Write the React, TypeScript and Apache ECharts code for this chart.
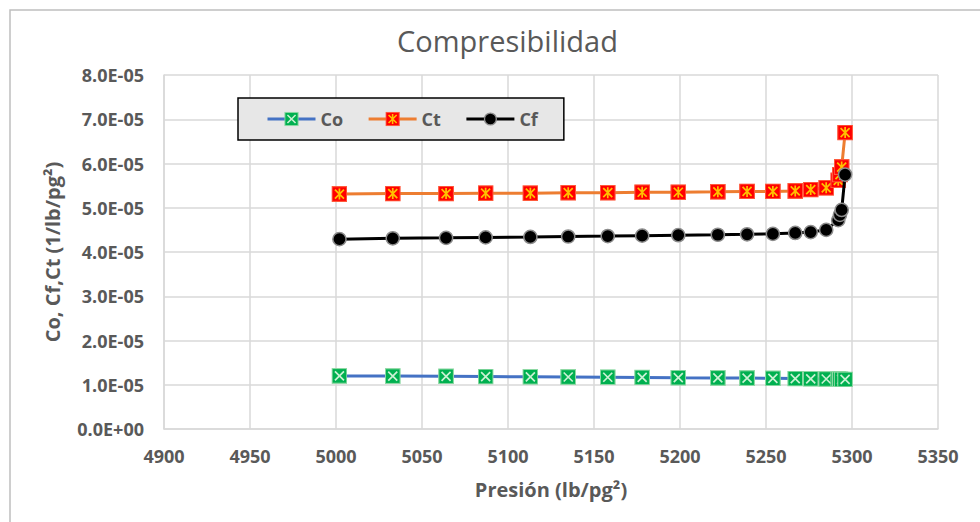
import React, { useEffect, useRef } from "react";
import * as echarts from "echarts";

// Pressure (lb/pg²)
const pressure = [5002, 5033, 5064, 5087, 5113, 5135, 5158, 5178, 5199, 5222, 5239, 5254, 5267, 5276, 5285, 5292, 5293, 5294, 5296];
// Compressibilities (1/lb/pg²)
const co = [1.2e-5, 1.195e-5, 1.19e-5, 1.185e-5, 1.18e-5, 1.175e-5, 1.17e-5, 1.165e-5, 1.16e-5, 1.155e-5, 1.15e-5, 1.145e-5, 1.14e-5, 1.135e-5, 1.13e-5, 1.13e-5, 1.125e-5, 1.12e-5, 1.12e-5];
const ct = [5.31e-5, 5.32e-5, 5.32e-5, 5.33e-5, 5.33e-5, 5.34e-5, 5.34e-5, 5.35e-5, 5.35e-5, 5.36e-5, 5.37e-5, 5.37e-5, 5.38e-5, 5.41e-5, 5.45e-5, 5.62e-5, 5.75e-5, 5.92e-5, 6.7e-5];
const cf = [4.29e-5, 4.31e-5, 4.32e-5, 4.33e-5, 4.34e-5, 4.35e-5, 4.36e-5, 4.37e-5, 4.38e-5, 4.39e-5, 4.4e-5, 4.41e-5, 4.43e-5, 4.45e-5, 4.5e-5, 4.72e-5, 4.84e-5, 4.95e-5, 5.75e-5];

const seriesNames = ["Co", "Ct", "Cf"];
const xMin = 4900;
const xMax = 5350;
const xStep = 50;
const yMin = 0;
const yMax = 8e-5;
const yStep = 1e-5;

const svgUri = (s: string) => "image://data:image/svg+xml;charset=utf-8," + encodeURIComponent(s);

const coSymbol = svgUri(
  "<svg xmlns='http://www.w3.org/2000/svg' width='16' height='16' viewBox='0 0 16 16'><rect x='0.6' y='0.6' width='14.8' height='14.8' fill='#00b050' stroke='#8fd9a4' stroke-width='1.2'/><path d='M3.5 3.5L12.5 12.5M12.5 3.5L3.5 12.5' stroke='#c9f1d3' stroke-width='1.7' fill='none'/></svg>"
);
const ctSymbol = svgUri(
  "<svg xmlns='http://www.w3.org/2000/svg' width='16' height='16' viewBox='0 0 16 16'><rect x='0.6' y='0.6' width='14.8' height='14.8' fill='#ff0000' stroke='#ff5a3c' stroke-width='1.2'/><path d='M8 2.5V13.5M3.5 3.5L12.5 12.5M12.5 3.5L3.5 12.5' stroke='#ffc000' stroke-width='1.7' fill='none'/></svg>"
);
const cfSymbol = svgUri(
  "<svg xmlns='http://www.w3.org/2000/svg' width='16' height='16' viewBox='0 0 16 16'><circle cx='8' cy='8' r='6.6' fill='#000000' stroke='#8c8c8c' stroke-width='1.5'/></svg>"
);

function sci(v: number): string {
  if (Math.abs(v) < 1e-12) return "0.0E+00";
  const e = Math.floor(Math.log10(Math.abs(v)) + 1e-6);
  const m = v / Math.pow(10, e);
  return m.toFixed(1) + "E" + (e < 0 ? "-" : "+") + String(Math.abs(e)).padStart(2, "0");
}

const pairs = (ys: number[]) => pressure.map((x, i) => [x, ys[i]]);

const FONT = "'Open Sans', 'Noto Sans', sans-serif";
const GRAY = "#595959";

export default function App() {
  const ref = useRef<HTMLDivElement>(null);
  useEffect(() => {
    if (!ref.current) return;
    const chart = echarts.init(ref.current, null, { renderer: "svg" });
    chart.setOption({
      animation: false,
      backgroundColor: "#ffffff",
      textStyle: { fontFamily: FONT },
      title: {
        text: "Compresibilidad",
        left: 392,
        top: 21,
        textStyle: { fontFamily: FONT, fontSize: 29, fontWeight: "normal", color: GRAY },
      },
      graphic: [
        {
          type: "rect",
          shape: { x: 10, y: 10, width: 1100, height: 700 },
          style: { fill: "none", stroke: "#bfbfbf", lineWidth: 1.5 },
          silent: true,
        },
      ],
      legend: {
        left: 238,
        top: 98,
        orient: "horizontal",
        data: seriesNames,
        backgroundColor: "#e7e7e7",
        borderColor: "#000000",
        borderWidth: 1.5,
        borderRadius: 0,
        padding: [12, 26, 12, 28],
        itemWidth: 48,
        itemHeight: 18,
        itemGap: 24,
        lineStyle: { width: 3 },
        textStyle: { fontFamily: FONT, fontSize: 18, fontWeight: "bold", color: GRAY },
      },
      grid: { left: 164, right: 42, top: 75, bottom: 93 },
      xAxis: {
        type: "value",
        min: xMin,
        max: xMax,
        interval: xStep,
        name: "Presión (lb/pg²)",
        nameLocation: "middle",
        nameGap: 50,
        nameTextStyle: { fontFamily: FONT, fontSize: 20, fontWeight: "bold", color: GRAY },
        axisLine: { show: true, lineStyle: { color: "#d9d9d9", width: 1.5 } },
        axisTick: { show: false },
        axisLabel: {
          fontFamily: FONT,
          fontSize: 18,
          fontWeight: "bold",
          color: GRAY,
          margin: 18,
          formatter: (v: number) => String(Math.round(v)),
        },
        splitLine: { show: true, lineStyle: { color: "#d9d9d9", width: 1.5 } },
      },
      yAxis: {
        type: "value",
        min: yMin,
        max: yMax,
        interval: yStep,
        name: "Co, Cf,Ct (1/lb/pg²)",
        nameLocation: "middle",
        nameRotate: 90,
        nameGap: 102,
        nameTextStyle: { fontFamily: FONT, fontSize: 20, fontWeight: "bold", color: GRAY },
        axisLine: { show: true, lineStyle: { color: "#d9d9d9", width: 1.5 } },
        axisTick: { show: false },
        axisLabel: {
          fontFamily: FONT,
          fontSize: 18,
          fontWeight: "bold",
          color: GRAY,
          margin: 20,
          formatter: (v: number) => sci(v),
        },
        splitLine: { show: true, lineStyle: { color: "#d9d9d9", width: 1.5 } },
      },
      series: [
        {
          name: "Co",
          type: "line",
          data: pairs(co),
          symbol: coSymbol,
          symbolSize: 16,
          lineStyle: { color: "#4472c4", width: 3 },
          itemStyle: { color: "#4472c4" },
          z: 3,
        },
        {
          name: "Ct",
          type: "line",
          data: pairs(ct),
          symbol: ctSymbol,
          symbolSize: 16,
          lineStyle: { color: "#ed7d31", width: 3 },
          itemStyle: { color: "#ed7d31" },
          z: 3,
        },
        {
          name: "Cf",
          type: "line",
          data: pairs(cf),
          symbol: cfSymbol,
          symbolSize: 16,
          lineStyle: { color: "#000000", width: 3 },
          itemStyle: { color: "#000000" },
          z: 4,
        },
      ],
    });
    return () => chart.dispose();
  }, []);
  return (
    <div
      ref={ref}
      style={{ position: "absolute", left: 0, top: 0, width: 980, height: 522 }}
    />
  );
}
